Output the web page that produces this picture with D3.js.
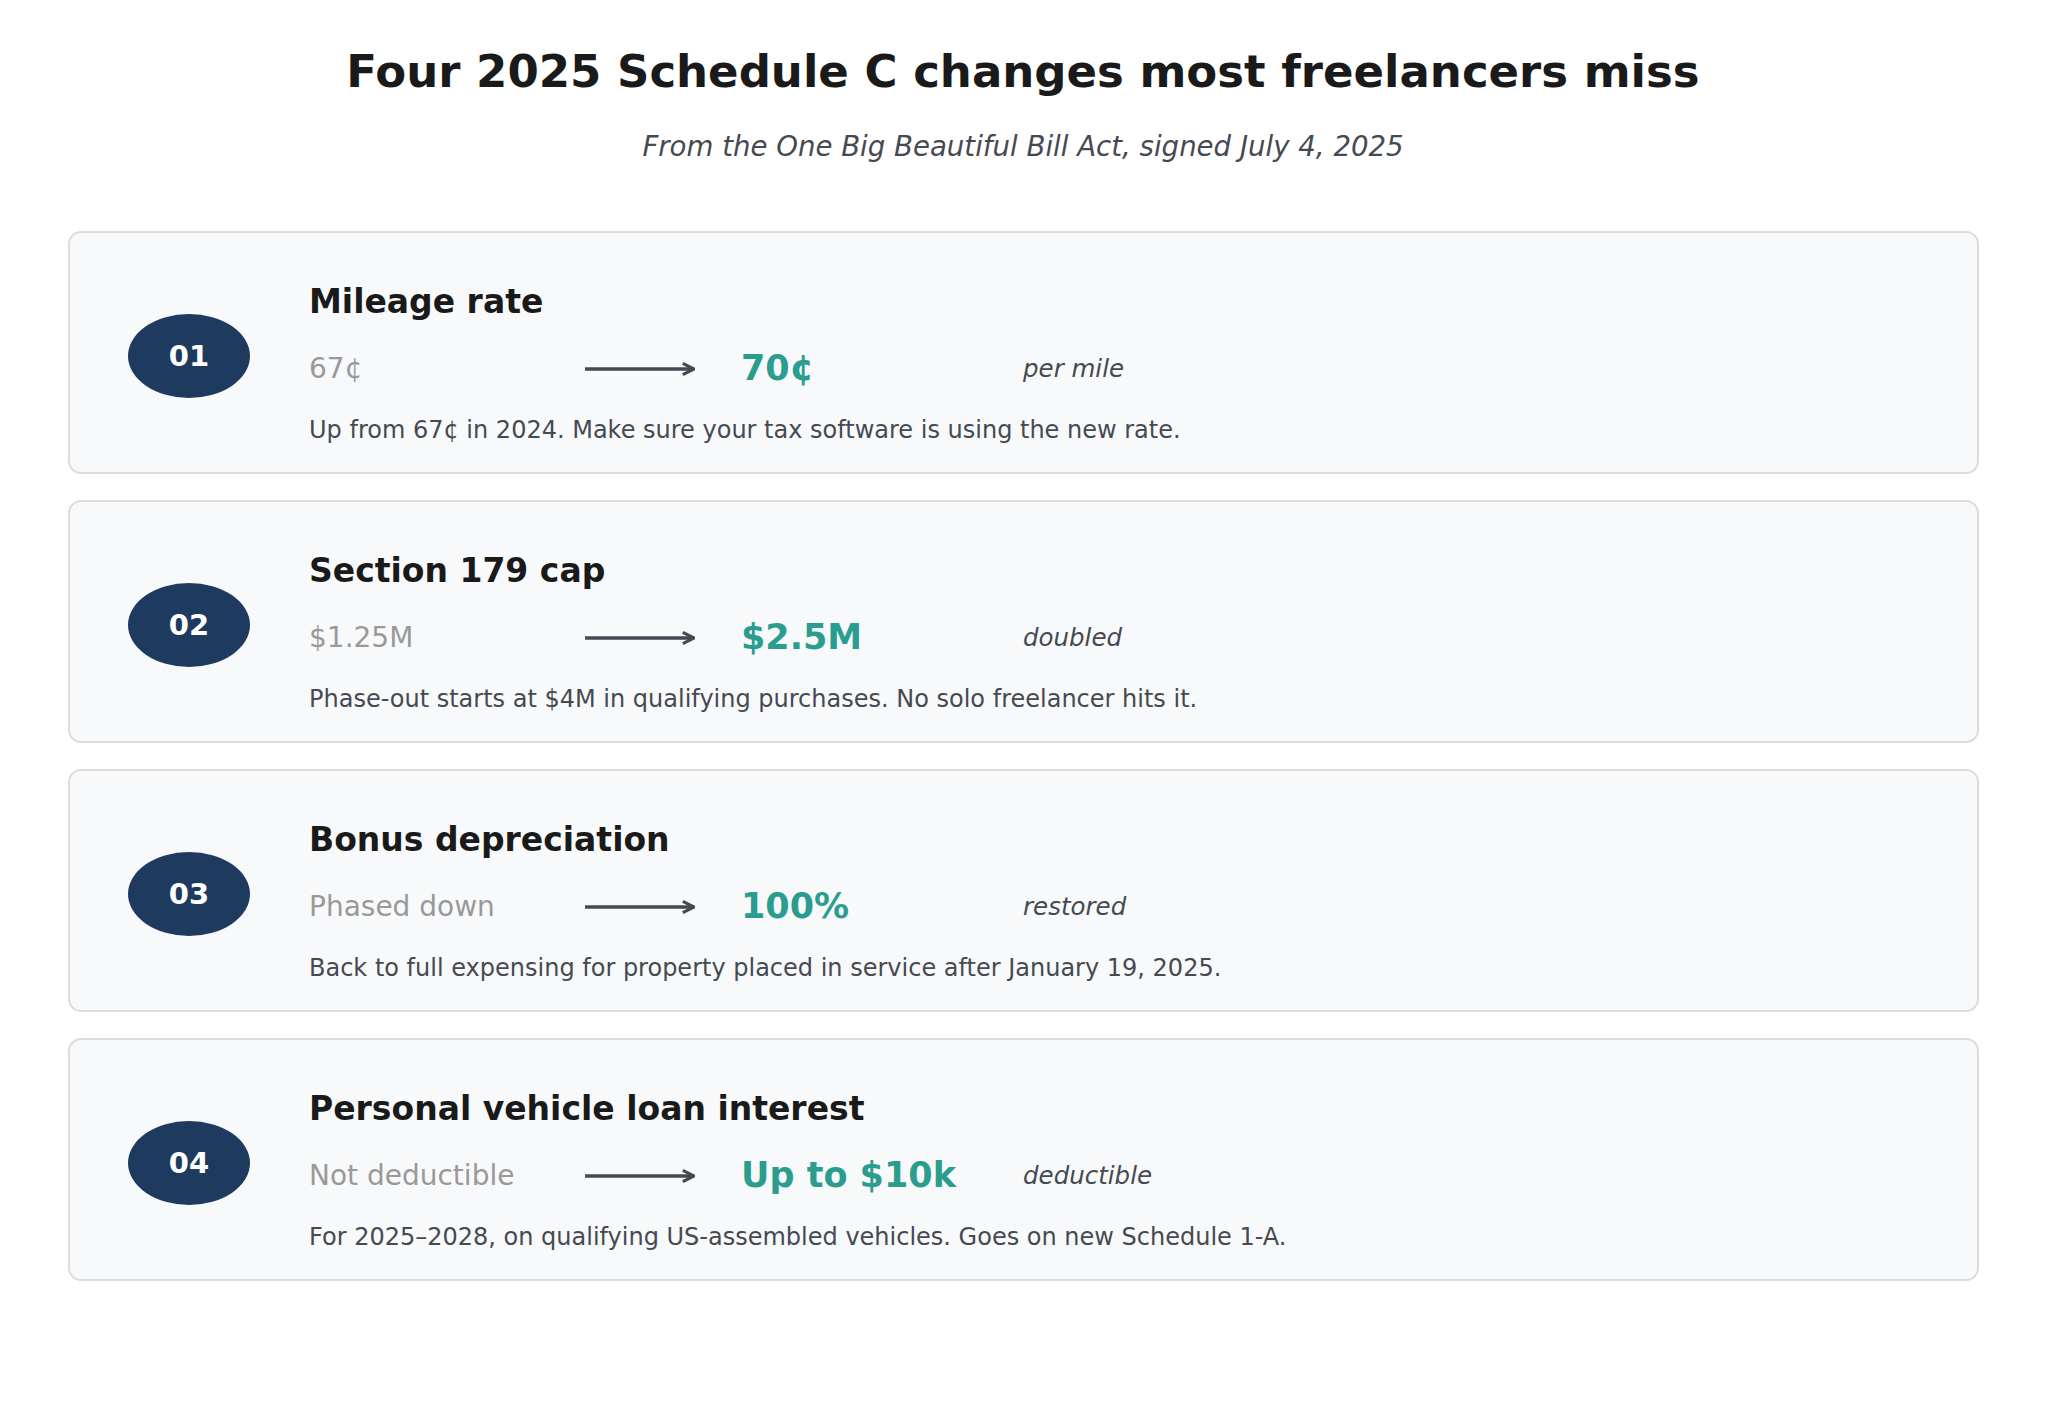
<!DOCTYPE html><html><head><meta charset="utf-8"><script src="https://cdn.jsdelivr.net/npm/d3@7"></script>
<style>body{margin:0;background:#fff}</style></head><body><svg id="c" width="2046" height="1416"></svg>
<script>
const numbers=["01","02","03","04"];
const headings=["Mileage rate","Section 179 cap","Bonus depreciation","Personal vehicle loan interest"];
const oldValues=["67¢","$1.25M","Phased down","Not deductible"];
const newValues=["70¢","$2.5M","100%","Up to $10k"];
const notes=["per mile","doubled","restored","deductible"];
const descriptions=["Up from 67¢ in 2024. Make sure your tax software is using the new rate.","Phase-out starts at $4M in qualifying purchases. No solo freelancer hits it.","Back to full expensing for property placed in service after January 19, 2025.","For 2025–2028, on qualifying US-assembled vehicles. Goes on new Schedule 1-A."];
const svg=d3.select("#c");const F="DejaVu Sans, sans-serif";
svg.append("defs").append("marker").attr("id","ah").attr("viewBox","0 0 10 10").attr("refX",9).attr("refY",5).attr("markerWidth",4).attr("markerHeight",4).attr("orient","auto").append("path").attr("d","M1,1L9,5L1,9").attr("fill","none").attr("stroke","#454a52").attr("stroke-width",2.2);
svg.append("text").attr("x",1023).attr("y",87).attr("text-anchor","middle").attr("font-family",F).attr("font-weight","bold").attr("font-size",45).attr("fill","#1a1a1a").text("Four 2025 Schedule C changes most freelancers miss");
svg.append("text").attr("x",1023).attr("y",156).attr("text-anchor","middle").attr("font-family",F).attr("font-style","italic").attr("font-size",27.6).attr("fill","#454a52").text("From the One Big Beautiful Bill Act, signed July 4, 2025");
const y=d3.scaleBand().domain(numbers).range([232,1280]).paddingInner(0.104).paddingOuter(0);
const g=svg.selectAll("g.card").data(numbers).join("g").attr("transform",d=>`translate(0,${y(d)})`);
g.append("rect").attr("x",69).attr("y",0).attr("width",1909).attr("height",y.bandwidth()).attr("rx",12).attr("fill","#f8f9fb").attr("stroke","#dcdcdc").attr("stroke-width",2);
g.append("ellipse").attr("cx",189).attr("cy",124).attr("rx",61).attr("ry",42).attr("fill","#1f3a5f");
g.append("text").attr("x",189).attr("y",134).attr("text-anchor","middle").attr("font-family",F).attr("font-weight","bold").attr("font-size",29).attr("fill","#fff").text(d=>d);
g.append("text").attr("x",309).attr("y",81).attr("font-family",F).attr("font-weight","bold").attr("font-size",33).attr("fill","#1a1a1a").text((d,i)=>headings[i]);
g.append("text").attr("x",309).attr("y",146).attr("font-family",F).attr("font-size",28).attr("fill","#999").text((d,i)=>oldValues[i]);
g.append("line").attr("x1",585).attr("x2",694).attr("y1",137).attr("y2",137).attr("stroke","#454a52").attr("stroke-width",3.5).attr("marker-end","url(#ah)");
g.append("text").attr("x",741).attr("y",148).attr("font-family",F).attr("font-weight","bold").attr("font-size",35).attr("fill","#2a9d8f").text((d,i)=>newValues[i]);
g.append("text").attr("x",1023).attr("y",145).attr("font-family",F).attr("font-style","italic").attr("font-size",24.5).attr("fill","#454a52").text((d,i)=>notes[i]);
g.append("text").attr("x",309).attr("y",206).attr("font-family",F).attr("font-size",24).attr("fill","#454a52").text((d,i)=>descriptions[i]);
</script></body></html>
